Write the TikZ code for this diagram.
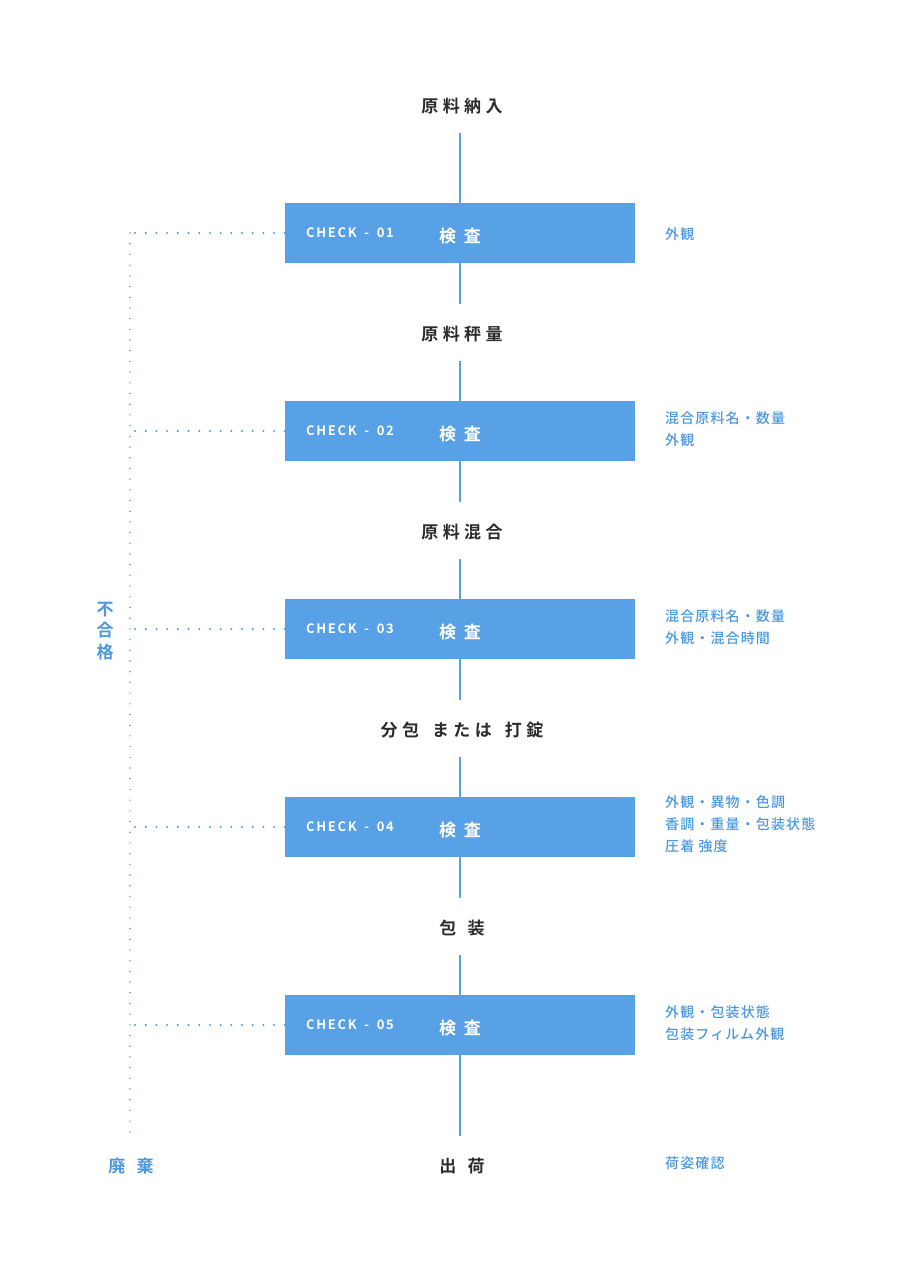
\documentclass[tikz,border=0pt]{standalone}
\usepackage{fontspec}
\newfontfamily\jpb[LetterSpace=26]{Noto Sans CJK JP Bold}
\newfontfamily\jpbb{Noto Sans CJK JP Bold}
\newfontfamily\jpk[LetterSpace=22]{Noto Sans CJK JP Bold}
\newfontfamily\jpck[LetterSpace=13]{Noto Sans CJK JP Bold}
\newfontfamily\jpm[LetterSpace=8]{Noto Sans CJK JP Medium}
\definecolor{boxblue}{HTML}{58A1E6}
\definecolor{txtblue}{HTML}{4A98E0}
\definecolor{dark}{HTML}{2B2B2B}
\begin{document}
\begin{tikzpicture}[x=1pt,y=-1pt,
  stage/.style={text=dark,font=\jpb\fontsize{17}{18}\selectfont,inner sep=0pt},
  chkbox/.style={fill=boxblue,draw=none,minimum width=350pt,minimum height=60pt,inner sep=0pt},
  chklbl/.style={text=white,font=\jpck\fontsize{13}{14}\selectfont,anchor=west,inner sep=0pt},
  kensa/.style={text=white,font=\jpk\fontsize{17}{18}\selectfont,inner sep=0pt},
  note/.style={text=txtblue,font=\jpm\fontsize{14}{22}\selectfont,anchor=west,align=left,inner sep=0pt},
  flow/.style={draw=boxblue,line width=2pt},
  reject/.style={draw=txtblue,line width=2.2pt,dash pattern=on 0pt off 10.7pt,line cap=round},
  rejectv/.style={draw=txtblue,line width=1.6pt,dash pattern=on 0pt off 10.7pt,line cap=round}
]
\useasboundingbox (0,0) rectangle (920,1270);
% stages
\node[stage] (s0) at (462,106) {原料納入};
\node[stage] (s1) at (462,334) {原料秤量};
\node[stage] (s2) at (462,532) {原料混合};
\node[stage] (s3) at (462,730) {分包\hspace{13pt}または\hspace{13pt}打錠};
\node[stage] (s4) at (462,928) {包\hspace{3pt} 装};
\node[stage] (s5) at (462,1166) {出\hspace{3pt} 荷};
% boxes
\foreach \i/\y in {1/233,2/431,3/629,4/827,5/1025}{
  \node[chkbox] (b\i) at (460,\y) {};
  \node[chklbl] (c\i) at (306,\y) {CHECK\hspace{3pt} - \hspace{3pt}0\i};
  \node[kensa] (k\i) at (460,\y+3) {検 査};
}
% flow lines
\coordinate (t0) at (460,133);
\draw[flow] (t0) -- (b1.north);
\draw[flow] (b1.south) -- ++(0,41) coordinate (e1);
\draw[flow] (460,361) coordinate (t1) -- (b2.north);
\draw[flow] (b2.south) -- ++(0,41) coordinate (e2);
\draw[flow] (460,559) coordinate (t2) -- (b3.north);
\draw[flow] (b3.south) -- ++(0,41) coordinate (e3);
\draw[flow] (460,757) coordinate (t3) -- (b4.north);
\draw[flow] (b4.south) -- ++(0,41) coordinate (e4);
\draw[flow] (460,955) coordinate (t4) -- (b5.north);
\draw[flow] (b5.south) -- ++(0,81) coordinate (e5);
% reject lines
\coordinate (r0) at (130,233);
\coordinate (r6) at (130,1134);
\foreach \i/\y in {1/233,2/431,3/629,4/827,5/1025}{
  \draw[reject] (b\i.west) -- (130,\y);
}
\draw[rejectv] (r0) -- (r6);
\node[text=txtblue,font=\jpbb\fontsize{17}{21.5}\selectfont,align=center,inner sep=0pt] (ng) at (105,631) {不\\合\\格};
\node[text=txtblue,font=\jpb\fontsize{17}{18}\selectfont,inner sep=0pt] (haiki) at (131,1166) {廃\hspace{3pt} 棄};
% notes
\node[note] (n1) at (665,234) {外観};
\node[note] (n2) at (665,429) {混合原料名・数量\\外観};
\node[note] (n3) at (665,627) {混合原料名・数量\\外観・混合時間};
\node[note] (n4) at (665,824) {外観・異物・色調\\香調・重量・包装状態\\圧着 強度};
\node[note] (n5) at (665,1023) {外観・包装状態\\包装フィルム外観};
\node[note] (n6) at (665,1163) {荷姿確認};
\end{tikzpicture}
\end{document}
